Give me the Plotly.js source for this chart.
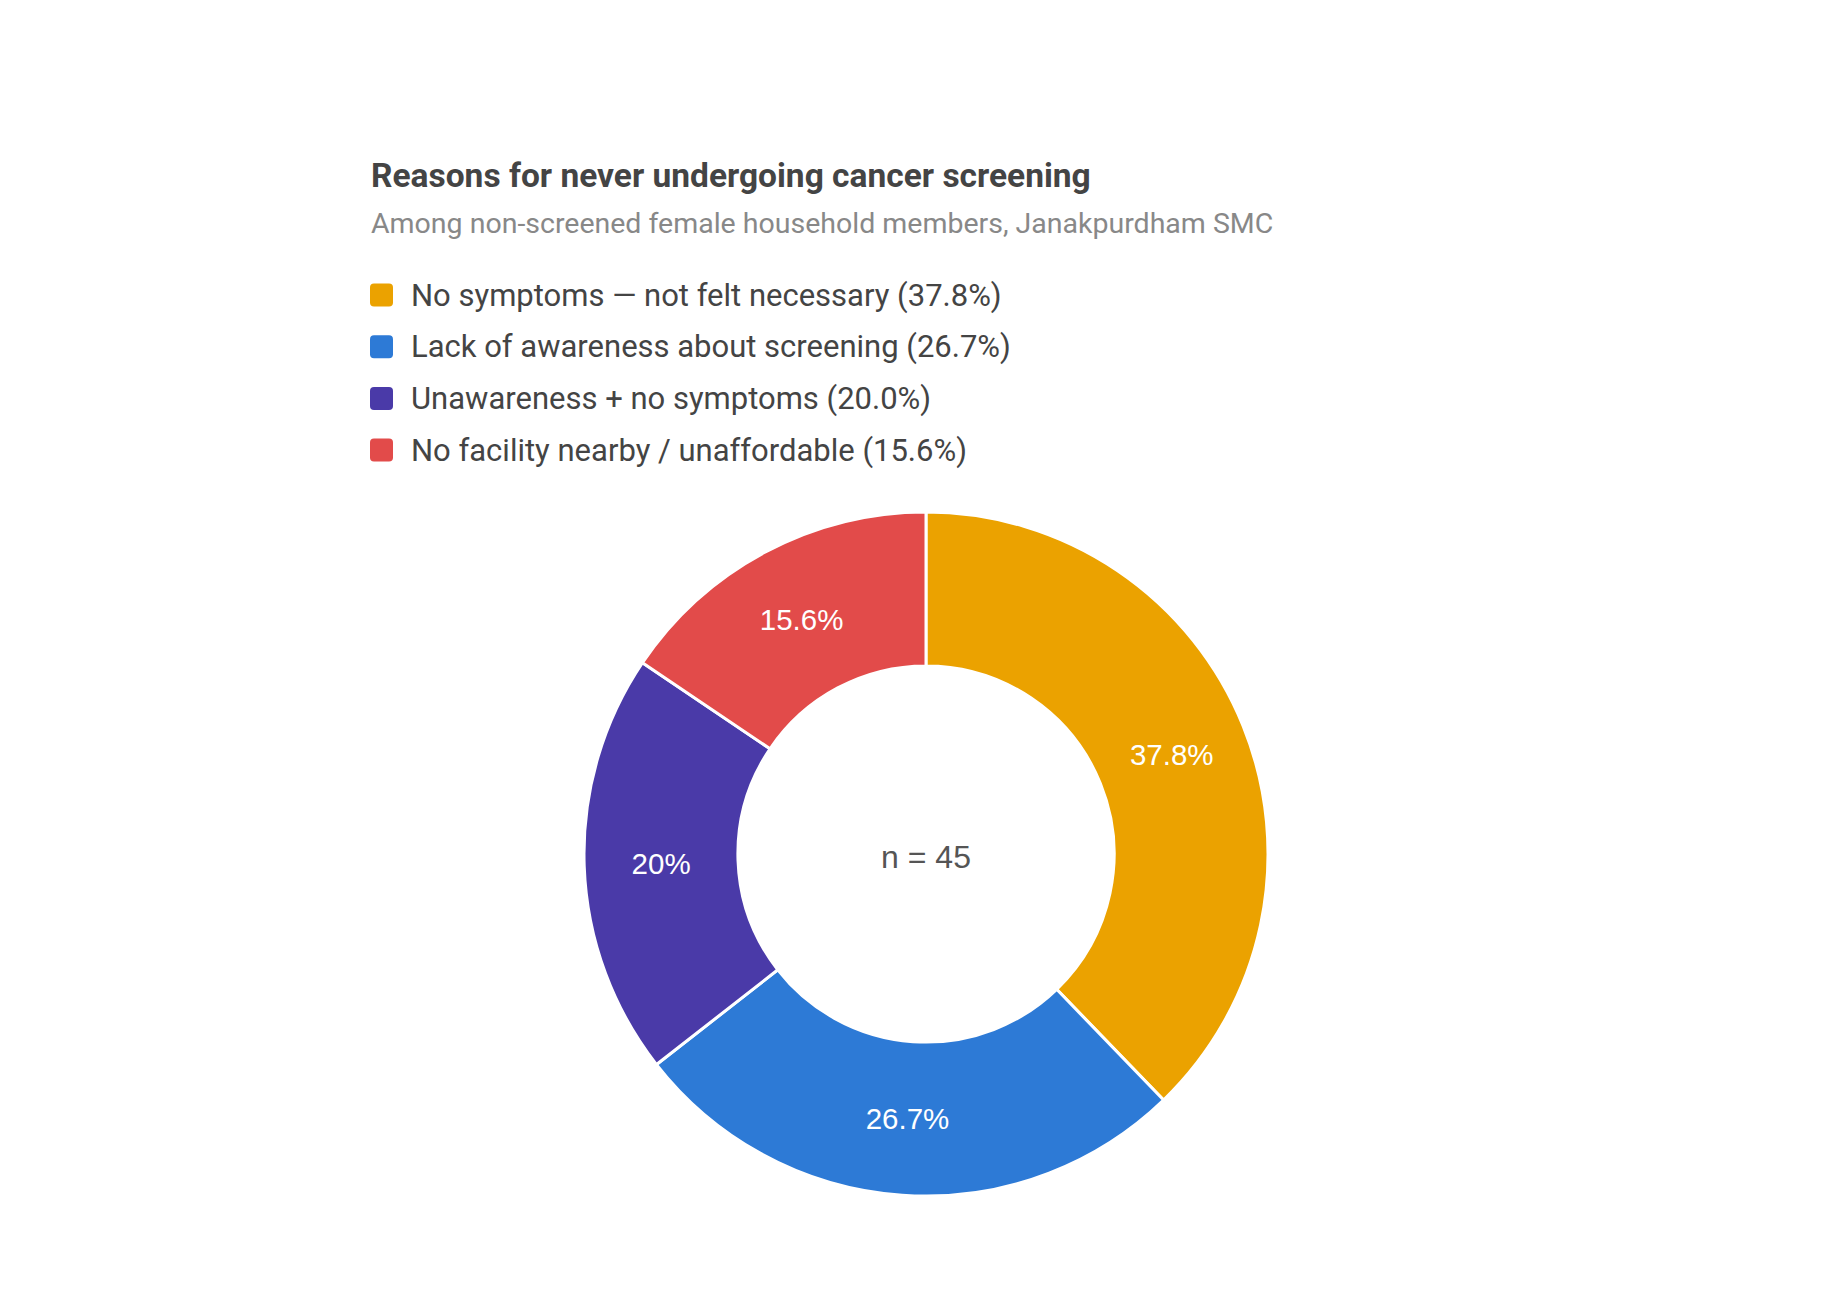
<!DOCTYPE html>
<html>
<head>
<meta charset="utf-8">
<script src="https://cdn.plot.ly/plotly-3.0.1.min.js"></script>
<style>
  html, body { margin: 0; padding: 0; background: #fff; }
  #chart { width: 1832px; height: 1298px; }
</style>
</head>
<body>
<div id="chart"></div>
<script>
// Reasons for never undergoing screening (counts, n = 45)
const reasons = [
    'No symptoms \u2014 not felt necessary',
    'Lack of awareness about screening',
    'Unawareness + no symptoms',
    'No facility nearby / unaffordable'
];
const counts = [17, 12, 9, 7];
const sliceColors = ['#EBA200', '#2D7AD6', '#4A3AA8', '#E24B4A'];

const W = 1832, H = 1298;
const px = x => x / W;
const py = y => 1 - y / H;

const total = counts.reduce((a, b) => a + b, 0);
const legendLabels = reasons.map((r, i) => `${r} (${(counts[i] / total * 100).toFixed(1)}%)`);

const FONT = 'Roboto, sans-serif';

// legend drawn by hand so the swatches can be as big as in the original
const legendTop = 295, legendStep = 51.7, sw = 23;
const shapes = reasons.map((r, i) => {
    const cy = legendTop + i * legendStep;
    const x0 = 370, y0 = cy - sw / 2, x1 = x0 + sw, y1 = cy + sw / 2, rr = 4;
    const path = `M${px(x0 + rr)},${py(y0)} L${px(x1 - rr)},${py(y0)} Q${px(x1)},${py(y0)} ${px(x1)},${py(y0 + rr)} ` +
        `L${px(x1)},${py(y1 - rr)} Q${px(x1)},${py(y1)} ${px(x1 - rr)},${py(y1)} L${px(x0 + rr)},${py(y1)} ` +
        `Q${px(x0)},${py(y1)} ${px(x0)},${py(y1 - rr)} L${px(x0)},${py(y0 + rr)} Q${px(x0)},${py(y0)} ${px(x0 + rr)},${py(y0)} Z`;
    return { type: 'path', xref: 'paper', yref: 'paper', path, fillcolor: sliceColors[i], line: { width: 0 } };
});

const annotations = [
    { text: '<b>Reasons for never undergoing cancer screening</b>', x: px(369), y: py(176), xanchor: 'left', yanchor: 'middle',
      font: { family: FONT, size: 33.5, color: '#444' } },
    { text: 'Among non-screened female household members, Janakpurdham SMC', x: px(369), y: py(223), xanchor: 'left', yanchor: 'middle',
      font: { family: FONT, size: 28.5, color: '#888' } }
].concat(legendLabels.map((t, i) => ({
    text: t, x: px(409), y: py(legendTop + i * legendStep), xanchor: 'left', yanchor: 'middle',
    font: { family: FONT, size: 31, color: '#444' }
}))).map(a => ({ ...a, xref: 'paper', yref: 'paper', showarrow: false }));

const cx = 926, cy = 854, R = 342;
const trace = {
    type: 'pie',
    labels: reasons,
    values: counts,
    sort: false,
    direction: 'clockwise',
    rotation: 0,
    hole: 0.55,
    marker: { colors: sliceColors, line: { color: '#fff', width: 3 } },
    textinfo: 'percent',
    textposition: 'inside',
    insidetextorientation: 'horizontal',
    textfont: { family: 'Liberation Sans, Arial, sans-serif', size: 29.5, color: '#fff' },
    title: { text: 'n = 45', position: 'middle center', font: { family: 'Liberation Sans, Arial, sans-serif', size: 32, color: '#555' } },
    domain: { x: [px(cx - R), px(cx + R)], y: [py(cy + R), py(cy - R)] },
    showlegend: false,
    hoverinfo: 'label+value+percent'
};

const layout = {
    width: W, height: H,
    margin: { l: 0, r: 0, t: 0, b: 0 },
    paper_bgcolor: '#fff',
    showlegend: false,
    shapes, annotations
};

Plotly.newPlot('chart', [trace], layout, { displayModeBar: false, staticPlot: true });
</script>
</body>
</html>
